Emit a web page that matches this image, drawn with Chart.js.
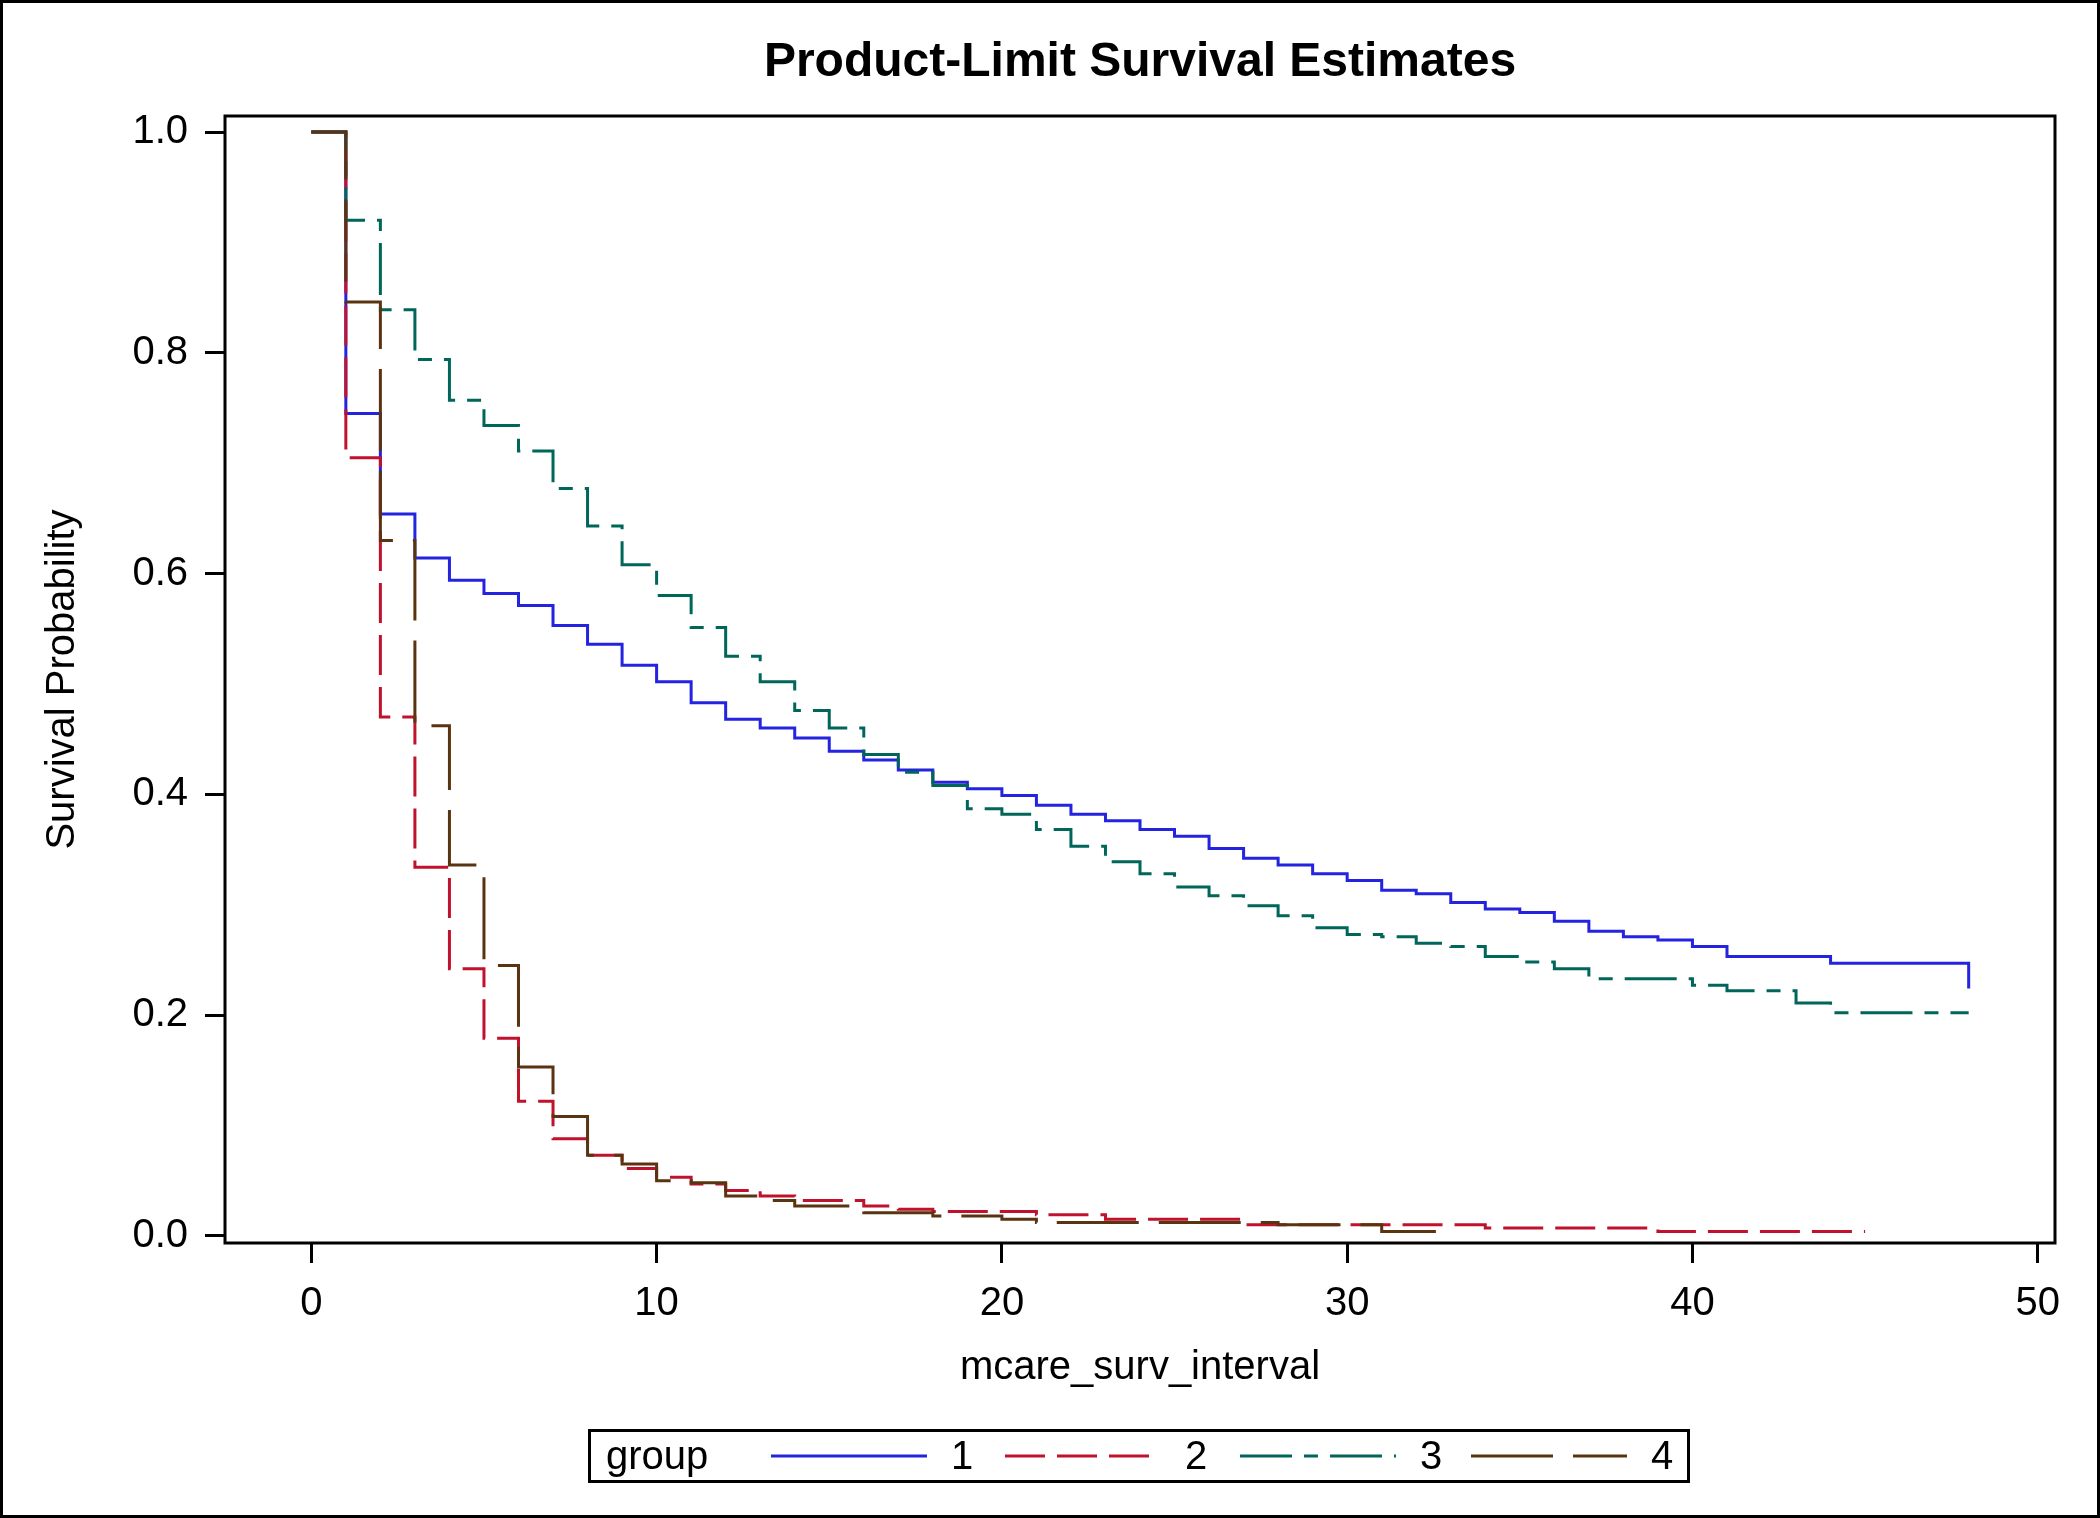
<!DOCTYPE html>
<html>
<head>
<meta charset="utf-8">
<title>Product-Limit Survival Estimates</title>
<script src="https://cdn.jsdelivr.net/npm/chart.js@4/dist/chart.umd.min.js"></script>
<style>
  html, body { margin: 0; padding: 0; background: #fff; }
  #wrap { position: relative; width: 2100px; height: 1518px; }
  #chart { position: absolute; left: 0; top: 0; }
  #frame { position: absolute; left: 0; top: 0; width: 2100px; height: 1518px; box-sizing: border-box; border: 3px solid #000; pointer-events: none; }
</style>
</head>
<body>
<div id="wrap">
  <canvas id="chart" width="2100" height="1518"></canvas>
  <div id="frame"></div>
</div>
<script>
const FONT = '"Liberation Sans", Arial, sans-serif';

// Kaplan-Meier estimates per group (time, survival)
const g1Time = [0, 1, 2, 3, 4, 5, 6, 7, 8, 9, 10, 11, 12, 13, 14, 15, 16, 17, 18, 19, 20, 21, 22, 23, 24, 25, 26, 27, 28, 29, 30, 31, 32, 33, 34, 35, 36, 37, 38, 39, 40, 41, 44, 48];
const g1Surv = [1.000, 0.745, 0.654, 0.614, 0.594, 0.582, 0.571, 0.553, 0.536, 0.517, 0.502, 0.483, 0.468, 0.460, 0.451, 0.439, 0.431, 0.422, 0.411, 0.405, 0.399, 0.390, 0.382, 0.376, 0.368, 0.362, 0.351, 0.342, 0.336, 0.328, 0.322, 0.313, 0.310, 0.302, 0.296, 0.293, 0.285, 0.276, 0.271, 0.268, 0.262, 0.253, 0.247, 0.224];

const g2Time = [0, 1, 2, 3, 4, 5, 6, 7, 8, 9, 10, 11, 12, 13, 14, 16, 17, 18, 21, 23, 27, 34, 39, 45];
const g2Surv = [1.000, 0.705, 0.470, 0.334, 0.242, 0.179, 0.122, 0.088, 0.073, 0.061, 0.053, 0.047, 0.041, 0.036, 0.032, 0.027, 0.024, 0.022, 0.019, 0.015, 0.010, 0.007, 0.004, 0.004];

const g3Time = [0, 1, 2, 3, 4, 5, 6, 7, 8, 9, 10, 11, 12, 13, 14, 15, 16, 17, 18, 19, 20, 21, 22, 23, 24, 25, 26, 27, 28, 29, 30, 31, 32, 33, 34, 35, 36, 37, 40, 41, 43, 44, 48];
const g3Surv = [1.000, 0.920, 0.839, 0.794, 0.757, 0.734, 0.711, 0.677, 0.643, 0.608, 0.580, 0.551, 0.525, 0.502, 0.476, 0.460, 0.436, 0.420, 0.408, 0.387, 0.382, 0.368, 0.353, 0.339, 0.328, 0.316, 0.308, 0.299, 0.290, 0.279, 0.273, 0.271, 0.265, 0.262, 0.253, 0.248, 0.242, 0.233, 0.227, 0.222, 0.211, 0.202, 0.202];

const g4Time = [0, 1, 2, 3, 4, 5, 6, 7, 8, 9, 10, 11, 12, 13, 14, 16, 18, 20, 21, 28, 31, 33];
const g4Surv = [1.000, 0.846, 0.630, 0.462, 0.336, 0.245, 0.153, 0.108, 0.073, 0.065, 0.050, 0.048, 0.036, 0.032, 0.027, 0.021, 0.018, 0.015, 0.012, 0.010, 0.004, 0.004];

const groupNames = ['1', '2', '3', '4'];
const xTickValues = [0, 10, 20, 30, 40, 50];
const yTickValues = [0, 0.2, 0.4, 0.6, 0.8, 1.0];

const toPoints = (t, s) => t.map((x, i) => ({ x, y: s[i] }));

function makeSet(label, t, s, color, dash, order) {
  return {
    label,
    data: toPoints(t, s),
    borderColor: color,
    borderWidth: 3,
    borderDash: dash,
    borderCapStyle: 'butt',
    borderJoinStyle: 'miter',
    stepped: 'before',
    pointRadius: 0,
    fill: false,
    order
  };
}

// Box round the plot, title on top and legend underneath
const framePlugin = {
  id: 'frame',
  afterDraw(chart) {
    const { ctx, chartArea: a } = chart;
    ctx.save();
    ctx.strokeStyle = '#000';
    ctx.lineWidth = 3;
    ctx.setLineDash([]);
    ctx.strokeRect(a.left, a.top, a.right - a.left, a.bottom - a.top);

    ctx.fillStyle = '#000';
    ctx.font = 'bold 48px ' + FONT;
    ctx.textAlign = 'center';
    ctx.textBaseline = 'middle';
    ctx.fillText('Product-Limit Survival Estimates', (a.left + a.right) / 2, 63);

    // legend
    ctx.strokeRect(589.5, 1430.5, 1099, 51);
    ctx.font = '40px ' + FONT;
    ctx.textAlign = 'left';
    ctx.textBaseline = 'alphabetic';
    ctx.fillText('group', 606, 1469);
    const lineX = [771, 1005, 1240, 1471];
    chart.data.datasets.forEach((ds, i) => {
      ctx.beginPath();
      ctx.strokeStyle = ds.borderColor;
      ctx.lineWidth = 3;
      ctx.setLineDash(ds.borderDash);
      ctx.moveTo(lineX[i], 1456);
      ctx.lineTo(lineX[i] + 156, 1456);
      ctx.stroke();
      ctx.fillText(ds.label, lineX[i] + 180, 1469);
    });
    ctx.restore();
  }
};

new Chart(document.getElementById('chart'), {
  type: 'line',
  data: {
    datasets: [
      makeSet(groupNames[0], g1Time, g1Surv, '#2323e0', [], 4),
      makeSet(groupNames[1], g2Time, g2Surv, '#c0122c', [40, 12], 3),
      makeSet(groupNames[2], g3Time, g3Surv, '#00665a', [52, 12, 14, 12], 2),
      makeSet(groupNames[3], g4Time, g4Surv, '#5a3410', [82, 20], 1)
    ]
  },
  options: {
    responsive: false,
    animation: false,
    layout: { padding: { top: 116, right: 45, bottom: 118, left: 0 } },
    plugins: {
      legend: { display: false },
      title: { display: false },
      tooltip: { enabled: false }
    },
    scales: {
      x: {
        type: 'linear',
        min: -2.5,
        max: 50.5,
        afterFit: s => { s.height = 157; },
        afterBuildTicks: s => { s.ticks = xTickValues.map(v => ({ value: v })); },
        border: { display: false },
        grid: { drawOnChartArea: false, drawTicks: true, tickLength: 20, lineWidth: 3, color: '#000' },
        ticks: { color: '#000', font: { family: FONT, size: 40 }, padding: 17, maxRotation: 0 },
        title: { display: true, text: 'mcare_surv_interval', color: '#000', font: { family: FONT, size: 40 }, padding: { top: 0, bottom: 8 } }
      },
      y: {
        min: -0.0065,
        max: 1.0145,
        afterFit: s => { s.width = 225; },
        afterBuildTicks: s => { s.ticks = yTickValues.map(v => ({ value: v })); },
        border: { display: false },
        grid: { drawOnChartArea: false, drawTicks: true, tickLength: 20, lineWidth: 3, color: '#000' },
        ticks: { color: '#000', font: { family: FONT, size: 40 }, padding: 17, callback: v => v.toFixed(1) },
        title: { display: true, text: 'Survival Probability', color: '#000', font: { family: FONT, size: 40 }, padding: { top: 39, bottom: 0 } }
      }
    }
  },
  plugins: [framePlugin]
});
</script>
</body>
</html>
